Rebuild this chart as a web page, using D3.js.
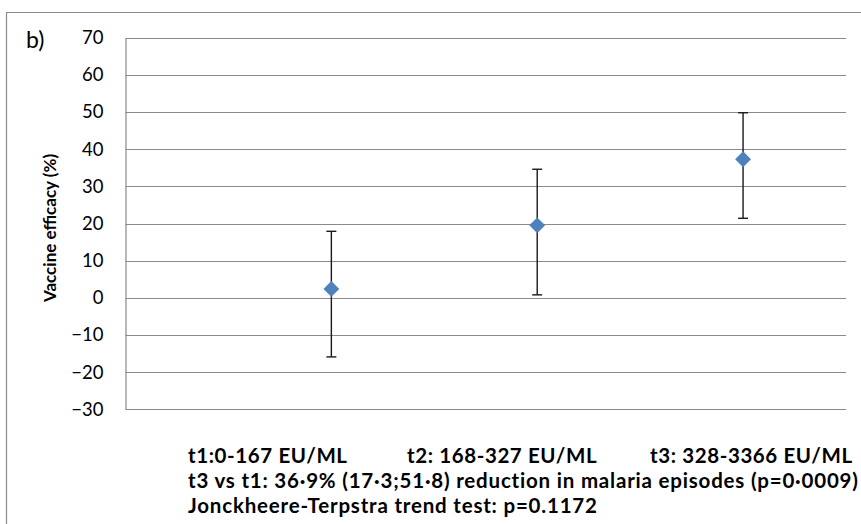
<!DOCTYPE html>
<html>
<head>
<meta charset="utf-8">
<script src="https://cdn.jsdelivr.net/npm/d3@7"></script>
<style>
  html, body { margin: 0; padding: 0; background: #fff; }
  svg { display: block; }
  text { font-family: Lato, "Open Sans", sans-serif; fill: #000; }
</style>
</head>
<body>
<svg id="chart" width="861" height="524"></svg>
<script>
// Vaccine efficacy by antibody tertile, with 95% confidence intervals
const groups = [1, 2, 3];
const efficacy = [2.4, 19.5, 37.3];
const ciLower = [-15.9, 0.8, 21.4];
const ciUpper = [17.9, 34.6, 49.8];
const yTicks = [-30, -20, -10, 0, 10, 20, 30, 40, 50, 60, 70];
const tertileLabels = ["t1:0-167 EU/ML", "t2: 168-327 EU/ML", "t3: 328-3366 EU/ML"];
const footnotes = [
  "t3 vs t1: 36\u00b79% (17\u00b73;51\u00b78) reduction in malaria episodes (p=0\u00b70009)",
  "Jonckheere-Terpstra trend test: p=0.1172"
];

const svg = d3.select("#chart");
const plot = { left: 125.5, right: 846, top: 37.7, bottom: 409.3 };

const x = d3.scaleLinear().domain([0, 3.5]).range([plot.left, plot.right]);
const y = d3.scaleLinear().domain([-30, 70]).range([plot.bottom, plot.top]);

// outer chart frame (top and left edges visible)
svg.append("path")
  .attr("d", "M6.5,524 V12.5 H861")
  .attr("fill", "none").attr("stroke", "#8c8c8c").attr("stroke-width", 1.2);

// gridlines
svg.append("g").selectAll("line").data(yTicks).join("line")
  .attr("x1", plot.left).attr("x2", plot.right)
  .attr("y1", d => Math.round(y(d)) + 0.5).attr("y2", d => Math.round(y(d)) + 0.5)
  .attr("stroke", "#8a8a8a").attr("stroke-width", 1.2);

// y axis with tick labels
const yAxis = d3.axisLeft(y).tickValues(yTicks).tickSize(0).tickPadding(22).tickFormat(d3.format("d"));
const gy = svg.append("g").attr("transform", `translate(${plot.left},0)`).call(yAxis);
gy.select(".domain").attr("stroke", "#8a8a8a").attr("stroke-width", 1.2);
gy.selectAll("text").style("font-family", "Lato, sans-serif").style("font-size", "18.5px").attr("fill", "#222");

// axis title
svg.append("text")
  .attr("transform", `translate(56,228) rotate(-90)`)
  .attr("text-anchor", "middle")
  .style("font-size", "17px").style("font-weight", "bold")
  .text("Vaccine efficacy (%)");

// panel letter
svg.append("text").attr("x", 26).attr("y", 48)
  .style("font-size", "23px").text("b)");

// error bars
const eb = svg.append("g").attr("stroke", "#1a1a1a").attr("stroke-width", 1.4);
groups.forEach((g, i) => {
  const cx = x(g);
  eb.append("line").attr("x1", cx).attr("x2", cx).attr("y1", y(ciLower[i])).attr("y2", y(ciUpper[i]));
  eb.append("line").attr("x1", cx - 5).attr("x2", cx + 5).attr("y1", y(ciLower[i])).attr("y2", y(ciLower[i]));
  eb.append("line").attr("x1", cx - 5).attr("x2", cx + 5).attr("y1", y(ciUpper[i])).attr("y2", y(ciUpper[i]));
});

// point estimates as diamonds
svg.append("g").selectAll("path").data(groups).join("path")
  .attr("transform", (g, i) => `translate(${x(g)},${y(efficacy[i])})`)
  .attr("d", d3.symbol(d3.symbolDiamond2, 160))
  .attr("fill", "#4f81bd");

// tertile labels
const labelX = [188, 407, 650];
svg.append("g").selectAll("text").data(tertileLabels).join("text")
  .attr("x", (d, i) => labelX[i]).attr("y", 463)
  .style("font-size", "20.5px").style("font-weight", "bold").style("letter-spacing", "0.6px")
  .text(d => d);

// footnote lines
svg.append("g").selectAll("text").data(footnotes).join("text")
  .attr("x", 188).attr("y", (d, i) => 488 + i * 24.5)
  .style("font-size", "20.5px").style("font-weight", "bold").style("letter-spacing", "0.8px")
  .text(d => d);
</script>
</body>
</html>
